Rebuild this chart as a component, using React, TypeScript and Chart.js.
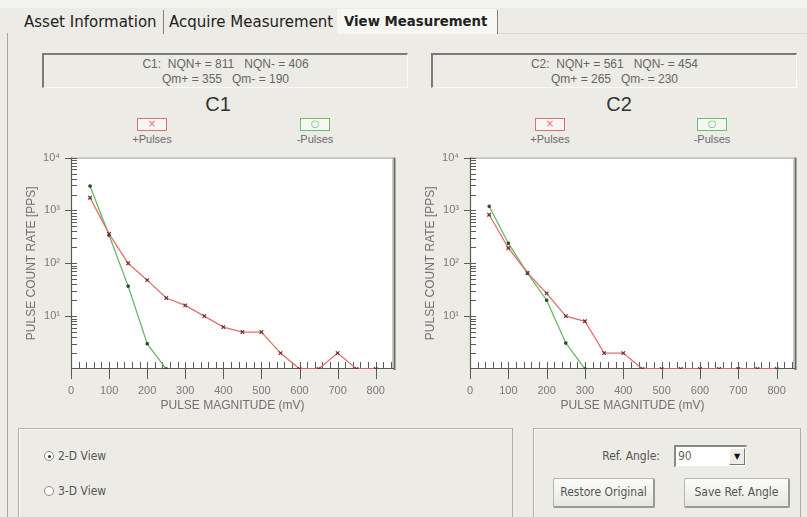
import React, { useEffect, useRef } from "react";
import { Chart, registerables } from "chart.js";
Chart.register(...registerables);

// ---------- data ----------
const MAGNITUDES = [50, 100, 150, 200, 250, 300, 350, 400, 450, 500, 550, 600, 650, 700, 750, 800];
const C1_POS = [1740, 360, 100, 48, 22, 16, 10, 6.2, 5, 5, 2, 1, 1, 2, 1, 1];
const C1_NEG = [2900, 340, 37, 3, 1, null, null, null, null, null, null, null, null, null, null, null];
const C2_POS = [830, 195, 66, 27, 10, 8, 2, 2, 1, 1, 1, 1, 1, 1, 1, 1];
const C2_NEG = [1200, 240, 65, 20, 3.1, 1, null, null, null, null, null, null, null, null, null, null];
const X_TICKS = [0, 100, 200, 300, 400, 500, 600, 700, 800];
const Y_TICKS = [10, 100, 1000, 10000];
const SUP: Record<string, string> = { "1": "¹", "2": "²", "3": "³", "4": "⁴" };

const C1_INFO = ["C1:  NQN+ = 811   NQN- = 406", "Qm+ = 355   Qm- = 190"];
const C2_INFO = ["C2:  NQN+ = 561   NQN- = 454", "Qm+ = 265   Qm- = 230"];

const BG = "#ECEBE5";
const UI_FONT = "'Liberation Sans Narrow', 'DejaVu Sans Condensed', 'Liberation Sans', sans-serif";
const CH_FONT = "'Liberation Sans', Arial, sans-serif";

const framePlugin = {
  id: "frame",
  beforeDatasetsDraw(chart: any) {
    const { ctx, chartArea: a, scales } = chart;
    const x = scales.x, y = scales.y;
    ctx.save();
    ctx.fillStyle = "#ffffff";
    ctx.fillRect(a.left, a.top, a.right - a.left, a.bottom - a.top);
    ctx.lineWidth = 1;
    ctx.strokeStyle = "#9a9a9a";
    ctx.beginPath();
    ctx.moveTo(a.left, a.top + 0.5);
    ctx.lineTo(a.right, a.top + 0.5);
    ctx.stroke();
    ctx.strokeStyle = "#c8c8c8";
    ctx.beginPath();
    ctx.moveTo(a.right - 1.5, a.top);
    ctx.lineTo(a.right - 1.5, a.bottom);
    ctx.stroke();
    ctx.strokeStyle = "#6a6a6a";
    ctx.lineWidth = 2;
    ctx.beginPath();
    ctx.moveTo(a.right + 0.5, a.top);
    ctx.lineTo(a.right + 0.5, a.bottom + 1);
    ctx.stroke();
    // axes
    ctx.strokeStyle = "#5a5a5a";
    ctx.lineWidth = 1.2;
    ctx.beginPath();
    ctx.moveTo(a.left + 0.5, a.top);
    ctx.lineTo(a.left + 0.5, a.bottom);
    ctx.moveTo(a.left, a.bottom - 0.5);
    ctx.lineTo(a.right, a.bottom - 0.5);
    ctx.stroke();
    ctx.lineWidth = 1;
    ctx.beginPath();
    for (let d = 0; d < 4; d++) {
      for (let m = 2; m <= 9; m++) {
        const py = Math.round(y.getPixelForValue(m * Math.pow(10, d))) + 0.5;
        ctx.moveTo(a.left, py);
        ctx.lineTo(a.left + 6, py);
      }
    }
    for (let d = 1; d <= 4; d++) {
      const py = Math.round(y.getPixelForValue(Math.pow(10, d))) + 0.5;
      ctx.moveTo(a.left - 6, py);
      ctx.lineTo(a.left + 6, py);
    }
    for (let v = 0; v <= x.max; v += 20) {
      const px = Math.round(x.getPixelForValue(v)) + 0.5;
      if (v % 100 === 0) {
        ctx.moveTo(px, a.bottom - 7);
        ctx.lineTo(px, a.bottom + 10);
      } else {
        ctx.moveTo(px, a.bottom - 7);
        ctx.lineTo(px, a.bottom);
      }
    }
    ctx.stroke();
    ctx.restore();
  },
};

function toPoints(vals: (number | null)[]) {
  const pts: { x: number; y: number }[] = [];
  vals.forEach((v, i) => {
    if (v !== null) pts.push({ x: MAGNITUDES[i], y: v });
  });
  return pts;
}

function PulseChart(props: { left: number; width: number; pos: (number | null)[]; neg: (number | null)[] }) {
  const ref = useRef<HTMLCanvasElement>(null);
  useEffect(() => {
    if (!ref.current) return;
    const chart = new Chart(ref.current, {
      type: "line",
      data: {
        datasets: [
          {
            label: "+Pulses",
            data: toPoints(props.pos),
            borderColor: "#e36f6b",
            borderWidth: 1.3,
            pointStyle: "crossRot",
            pointRadius: 2.5,
            pointBorderColor: "#6b3030",
            pointBackgroundColor: "#6b3030",
            pointBorderWidth: 1.2,
            tension: 0,
          },
          {
            label: "-Pulses",
            data: toPoints(props.neg),
            borderColor: "#67b767",
            borderWidth: 1.3,
            pointStyle: "rect",
            pointRadius: 1.6,
            pointBorderColor: "#2f4a2f",
            pointBackgroundColor: "#2f4a2f",
            pointBorderWidth: 1,
            tension: 0,
          },
        ],
      },
      options: {
        animation: false,
        responsive: false,
        maintainAspectRatio: false,
        layout: { padding: { top: 6, right: 11, left: 0, bottom: 0 } },
        plugins: { legend: { display: false }, tooltip: { enabled: false } },
        scales: {
          x: {
            type: "linear",
            min: 0,
            max: 848,
            grid: { display: false, drawTicks: false },
            border: { display: false },
            afterBuildTicks: (s: any) => {
              s.ticks = X_TICKS.map((v) => ({ value: v }));
            },
            afterFit: (s: any) => {
              s.height = 51;
            },
            ticks: {
              padding: 15,
              color: "#7a7a7a",
              font: { family: CH_FONT, size: 11 },
              maxRotation: 0,
              autoSkip: false,
            },
            title: {
              display: true,
              text: "PULSE MAGNITUDE (mV)",
              color: "#707070",
              font: { family: CH_FONT, size: 12 },
              padding: { top: 0, bottom: 7 },
            },
          },
          y: {
            type: "logarithmic",
            min: 1,
            max: 10000,
            grid: { display: false, drawTicks: false },
            border: { display: false },
            afterBuildTicks: (s: any) => {
              s.ticks = Y_TICKS.map((v) => ({ value: v }));
            },
            afterFit: (s: any) => {
              s.width = 51;
            },
            ticks: {
              padding: 11,
              color: "#7a7a7a",
              font: { family: CH_FONT, size: 11 },
              autoSkip: false,
              callback: (v: any) => "10" + SUP[String(Math.round(Math.log10(Number(v))))],
            },
            title: {
              display: true,
              text: "PULSE COUNT RATE [PPS]",
              color: "#707070",
              font: { family: CH_FONT, size: 12 },
              padding: { top: 4, bottom: 0 },
            },
          },
        },
      },
      plugins: [framePlugin],
    } as any);
    return () => chart.destroy();
  }, []);
  return (
    <canvas
      ref={ref}
      width={props.width}
      height={280}
      style={{ position: "absolute", left: props.left, top: 140, width: props.width, height: 280 }}
    />
  );
}

function InfoBox(props: { left: number; lines: string[] }) {
  return (
    <div
      style={{
        position: "absolute",
        left: props.left,
        top: 53,
        width: 366,
        height: 35,
        boxSizing: "border-box",
        borderTop: "2px solid #7a7a7a",
        borderLeft: "2px solid #7a7a7a",
        borderBottom: "1px solid #fafafa",
        borderRight: "1px solid #fafafa",
        textAlign: "center",
        fontFamily: CH_FONT,
        fontSize: 12,
        lineHeight: "15px",
        color: "#666",
        paddingTop: 2,
        whiteSpace: "pre",
      }}
    >
      <div>{props.lines[0]}</div>
      <div>{props.lines[1]}</div>
    </div>
  );
}

function Legend(props: { cx: number; color: string; glyph: string; label: string }) {
  return (
    <>
      <div
        style={{
          position: "absolute",
          left: props.cx - 15,
          top: 118,
          width: 30,
          height: 13,
          boxSizing: "border-box",
          border: `1.5px solid ${props.color}`,
          background: "#f6f6f2",
          color: props.color,
          fontSize: 10,
          lineHeight: "10px",
          textAlign: "center",
          fontFamily: "'DejaVu Sans', sans-serif",
        }}
      >
        {props.glyph}
      </div>
      <div
        style={{
          position: "absolute",
          left: props.cx - 40,
          width: 80,
          top: 133,
          textAlign: "center",
          fontFamily: CH_FONT,
          fontSize: 11,
          color: "#6a6a6a",
          lineHeight: "13px",
        }}
      >
        {props.label}
      </div>
    </>
  );
}

function Title(props: { cx: number; text: string }) {
  return (
    <div
      style={{
        position: "absolute",
        left: props.cx - 40,
        width: 80,
        top: 92,
        textAlign: "center",
        fontFamily: CH_FONT,
        fontSize: 20,
        lineHeight: "24px",
        color: "#333",
      }}
    >
      {props.text}
    </div>
  );
}

function Radio(props: { y: number; checked: boolean; label: string }) {
  return (
    <>
      <div
        style={{
          position: "absolute",
          left: 44,
          top: props.y - 5,
          width: 10,
          height: 10,
          boxSizing: "border-box",
          borderRadius: "50%",
          border: "1px solid #8a8a8a",
          background: "#fff",
        }}
      >
        {props.checked && (
          <div style={{ position: "absolute", left: 2.5, top: 2.5, width: 3, height: 3, borderRadius: "50%", background: "#333" }} />
        )}
      </div>
      <div
        style={{
          position: "absolute",
          left: 58,
          top: props.y - 7,
          fontFamily: UI_FONT,
          fontSize: 12,
          lineHeight: "14px",
          color: "#555",
        }}
      >
        {props.label}
      </div>
    </>
  );
}

function Button(props: { left: number; width: number; text: string }) {
  return (
    <div
      style={{
        position: "absolute",
        left: props.left,
        top: 478,
        width: props.width,
        height: 30,
        boxSizing: "border-box",
        border: "1px solid #b5b5b0",
        borderRight: "2px solid #9a9a95",
        borderBottom: "2px solid #9a9a95",
        borderRadius: 2,
        background: "linear-gradient(#fbfbf9, #e8e8e2)",
        textAlign: "center",
        fontFamily: UI_FONT,
        fontSize: 12,
        lineHeight: "27px",
        color: "#555",
      }}
    >
      {props.text}
    </div>
  );
}

const tabStyle: React.CSSProperties = {
  position: "absolute",
  top: 12,
  fontFamily: "'DejaVu Sans', sans-serif",
  fontSize: 15,
  lineHeight: "20px",
  color: "#222",
  whiteSpace: "nowrap",
};

export default function App() {
  return (
    <div
      style={{
        position: "fixed",
        left: 0,
        top: 0,
        width: 807,
        height: 517,
        background: BG,
        overflow: "hidden",
      }}
    >
      {/* tab strip */}
      <div style={{ position: "absolute", left: 0, top: 0, width: 807, height: 8, background: "#f3f3ef" }} />
      <div style={{ position: "absolute", left: 337, top: 9, width: 160, height: 25, background: "#f6f6f3" }} />
      <div style={{ ...tabStyle, left: 24 }}>Asset Information</div>
      <div style={{ ...tabStyle, left: 169 }}>Acquire Measurement</div>
      <div style={{ ...tabStyle, left: 344, fontWeight: "bold", fontSize: 13.3 }}>View Measurement</div>
      <div style={{ position: "absolute", left: 163, top: 10, width: 1, height: 24, background: "#808080" }} />
      <div style={{ position: "absolute", left: 497, top: 10, width: 1, height: 24, background: "#808080" }} />
      <div style={{ position: "absolute", left: 498, top: 33, width: 309, height: 1, background: "#d8d8d2" }} />
      <div style={{ position: "absolute", left: 7, top: 33, width: 1, height: 484, background: "#a8a8a2" }} />

      <InfoBox left={42} lines={C1_INFO} />
      <InfoBox left={431} lines={C2_INFO} />

      <Title cx={218} text="C1" />
      <Title cx={619} text="C2" />

      <Legend cx={152} color="#e07070" glyph="×" label="+Pulses" />
      <Legend cx={315} color="#6cbf6c" glyph="○" label="-Pulses" />
      <Legend cx={550} color="#e07070" glyph="×" label="+Pulses" />
      <Legend cx={712} color="#6cbf6c" glyph="○" label="-Pulses" />

      <PulseChart left={20} width={385} pos={C1_POS} neg={C1_NEG} />
      <PulseChart left={419} width={387} pos={C2_POS} neg={C2_NEG} />

      {/* bottom panels */}
      <div
        style={{
          position: "absolute",
          left: 18,
          top: 428,
          width: 495,
          height: 100,
          boxSizing: "border-box",
          border: "1px solid #b0b0aa",
          boxShadow: "inset 1px 1px 0 #fafafa",
        }}
      />
      <div
        style={{
          position: "absolute",
          left: 533,
          top: 428,
          width: 268,
          height: 100,
          boxSizing: "border-box",
          border: "1px solid #b0b0aa",
          boxShadow: "inset 1px 1px 0 #fafafa",
        }}
      />
      <Radio y={456} checked={true} label="2-D View" />
      <Radio y={491} checked={false} label="3-D View" />

      <div
        style={{
          position: "absolute",
          left: 560,
          width: 100,
          top: 449,
          textAlign: "right",
          fontFamily: UI_FONT,
          fontSize: 12,
          lineHeight: "14px",
          color: "#555",
        }}
      >
        Ref. Angle:
      </div>
      <div
        style={{
          position: "absolute",
          left: 674,
          top: 445,
          width: 73,
          height: 22,
          boxSizing: "border-box",
          borderTop: "2px solid #888",
          borderLeft: "2px solid #888",
          borderBottom: "1px solid #eee",
          borderRight: "1px solid #eee",
          background: "#fff",
          fontFamily: UI_FONT,
          fontSize: 12,
          lineHeight: "18px",
          color: "#666",
          paddingLeft: 2,
        }}
      >
        90
        <div
          style={{
            position: "absolute",
            right: 1,
            top: 1,
            width: 16,
            height: 17,
            boxSizing: "border-box",
            background: "#ecebe5",
            borderRight: "1px solid #777",
            borderBottom: "1px solid #777",
            borderTop: "1px solid #fff",
            borderLeft: "1px solid #fff",
            fontSize: 8,
            lineHeight: "15px",
            textAlign: "center",
            color: "#111",
            fontFamily: "'DejaVu Sans', sans-serif",
          }}
        >
          ▼
        </div>
      </div>
      <Button left={553} width={102} text="Restore Original" />
      <Button left={684} width={106} text="Save Ref. Angle" />
    </div>
  );
}
